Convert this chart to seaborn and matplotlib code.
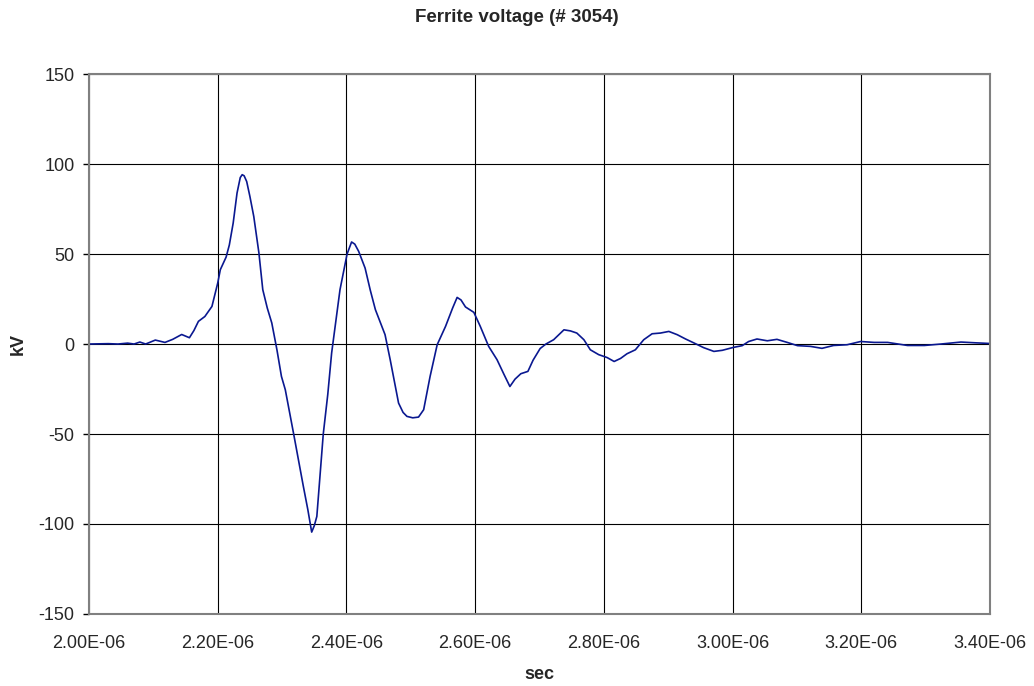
import matplotlib
matplotlib.use("Agg")
import matplotlib.pyplot as plt
import seaborn as sns
import pandas as pd
from matplotlib.ticker import FuncFormatter, MultipleLocator

# time in microseconds, voltage in kV
t_us = [2.000, 2.015, 2.030, 2.045, 2.060, 2.070, 2.079, 2.088, 2.103, 2.118,
        2.130, 2.144, 2.156, 2.163, 2.170, 2.180, 2.191, 2.200, 2.204, 2.213,
        2.218, 2.224, 2.230, 2.235, 2.238, 2.241, 2.245, 2.250, 2.256, 2.264,
        2.270, 2.277, 2.284, 2.292, 2.299, 2.305, 2.318, 2.333, 2.340, 2.346,
        2.350, 2.354, 2.364, 2.371, 2.377, 2.390, 2.401, 2.408, 2.413, 2.419,
        2.429, 2.437, 2.445, 2.460, 2.468, 2.481, 2.488, 2.494, 2.503, 2.512,
        2.520, 2.530, 2.541, 2.554, 2.565, 2.572, 2.578, 2.585, 2.598, 2.608,
        2.621, 2.634, 2.645, 2.654, 2.662, 2.671, 2.682, 2.690, 2.701, 2.710,
        2.722, 2.738, 2.748, 2.758, 2.769, 2.779, 2.792, 2.805, 2.816, 2.826,
        2.836, 2.849, 2.862, 2.875, 2.888, 2.901, 2.914, 2.927, 2.940, 2.955,
        2.971, 2.984, 3.001, 3.015, 3.025, 3.038, 3.054, 3.069, 3.085, 3.101,
        3.121, 3.139, 3.157, 3.178, 3.199, 3.220, 3.241, 3.272, 3.298, 3.324,
        3.355, 3.376, 3.400]
kv = [0, 0.1, 0.2, 0, 0.5, 0, 1.1, 0, 2.2, 0.9,
      2.6, 5.3, 3.5, 7.5, 12.6, 15.3, 20.9, 33.9, 41.3, 48.3,
      55, 67.2, 83.9, 92.5, 94.1, 93.5, 90.3, 82, 70.9, 50.6,
      30.2, 20, 11.7, -3.2, -18, -25.4, -50, -79, -92, -104.5,
      -101, -95.8, -50, -28, -5, 30.2, 50, 56.7, 55.5, 51.5,
      42.2, 30, 19.1, 5.2, -8.7, -32.8, -38, -40.2, -41, -40.6,
      -36.5, -18, -0.4, 9.8, 20, 25.9, 24.5, 20.6, 17.6, 9.8,
      -1.3, -8.7, -17, -23.6, -19.5, -16.5, -15.2, -9, -2.5, 0,
      2.4, 7.9, 7.3, 6.1, 2.4, -3.2, -5.9, -7.5, -9.7, -8,
      -5.4, -3.2, 2.4, 5.7, 6.1, 7, 5.2, 2.8, 0.6, -2,
      -4.1, -3.5, -1.9, -0.9, 1.4, 2.8, 1.8, 2.6, 0.9, -0.9,
      -1.3, -2.4, -0.8, -0.4, 1.4, 0.9, 0.9, -0.8, -0.8, 0,
      1.1, 0.7, 0.3]

df = pd.DataFrame({"sec": [t * 1e-6 for t in t_us], "kV": kv})

sns.set_style("white")
plt.rcParams['font.family'] = ['Liberation Sans', 'DejaVu Sans']
plt.rcParams['axes.unicode_minus'] = False

fig = plt.figure(figsize=(10.34, 6.86), dpi=100)
ax = fig.add_axes([0.0861, 0.105, 0.8713, 0.787])

sns.lineplot(data=df, x="sec", y="kV", ax=ax, color="#0a1890",
             linewidth=1.2, sort=False, estimator=None)
ax.lines[0].set_solid_joinstyle("round")

ax.set_xlim(2.0e-6, 3.4e-6)
ax.set_ylim(-150, 150)
ax.xaxis.set_major_locator(MultipleLocator(0.2e-6))
ax.yaxis.set_major_locator(MultipleLocator(50))
ax.xaxis.set_major_formatter(FuncFormatter(lambda v, p: "{:.2E}".format(v)))
ax.grid(True, color="black", linewidth=0.8)

for s in ax.spines.values():
    s.set_color("#808080")
    s.set_linewidth(1.5)

ax.tick_params(axis="y", length=4.5, width=1, color="black", labelsize=13, pad=6, left=True)
ax.tick_params(axis="x", length=0, labelsize=13, pad=15)

ax.set_xlabel("sec", fontsize=13, fontweight="bold", labelpad=10)
ax.set_ylabel("kV", fontsize=13, fontweight="bold", labelpad=8)

fig.text(0.4997, 1 - 17 / 686, "Ferrite voltage (# 3054)", ha="center", va="center",
         fontsize=13.5, fontweight="bold")

fig.savefig("out.png", dpi=100)
